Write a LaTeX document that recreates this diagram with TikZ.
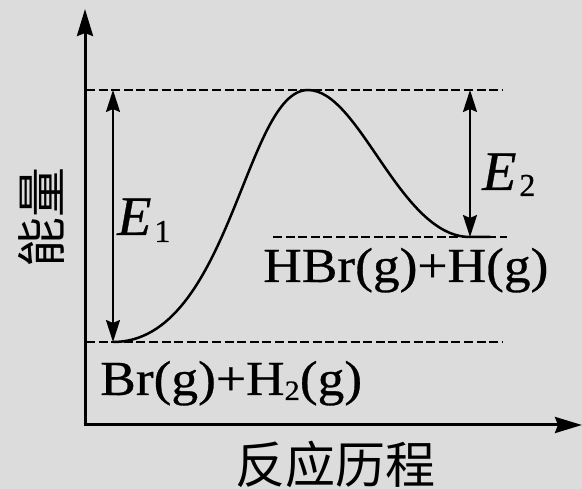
\documentclass[tikz,border=0pt]{standalone}
\usepackage{fontspec}
\setmainfont{Liberation Serif}
\newfontfamily\heavyserif{Liberation Serif}[FakeBold=0.6]
\newfontfamily\cjk{Noto Sans CJK SC}
\usetikzlibrary{arrows.meta}
\definecolor{bg}{RGB}{220,220,220}
\tikzset{
  axis/.style={line width=3pt,-{Stealth[length=27pt,width=16pt,inset=3pt]}},
  dimarrow/.style={line width=2.2pt,{Stealth[length=22pt,width=14pt,inset=3pt]}-{Stealth[length=22pt,width=14pt,inset=3pt]}},
  level/.style={line width=2.6pt,dash pattern=on 9pt off 3.6pt},
  curve/.style={line width=2.5pt},
  lbl/.style={inner sep=0pt,anchor=base west,font=\fontsize{49}{49}\selectfont\heavyserif,xscale=1.09},
  elbl/.style={inner sep=0pt,anchor=base west,font=\fontsize{56}{56}\selectfont\heavyserif\itshape},
  cn/.style={inner sep=0pt,font=\fontsize{50}{50}\selectfont\cjk}
}
\begin{document}
\begin{tikzpicture}[x=1pt,y=-1pt]
\fill[bg] (0,0) rectangle (582,489);
\useasboundingbox (0,0) rectangle (582,489);
% axes
\coordinate (O) at (85,425);
\coordinate (Ytip) at (85,9);
\coordinate (Xtip) at (582,425);
\draw[axis] (85,426.5) -- (Ytip);
\draw[axis] (83.5,425) -- (Xtip);
% levels
\coordinate (TopL) at (86,90);
\coordinate (TopR) at (502,90);
\coordinate (BotL) at (86,342);
\coordinate (BotR) at (502,342);
\coordinate (MidL) at (273,237);
\coordinate (MidR) at (507,237);
\draw[level] (TopL) -- (TopR);
\draw[level] (BotL) -- (BotR);
\draw[level] (MidL) -- (MidR);
% curve
\coordinate (R) at (113,342);
\coordinate (P) at (308,90);
\coordinate (Q) at (470,237);
\draw[curve] (R) .. controls (230,342) and (245,90) .. (P)
  .. controls (360,90) and (400,237) .. (Q) -- (490,237);
% energy arrows
\coordinate (E1t) at (113,90);
\coordinate (E2t) at (470,90);
\draw[dimarrow] (E1t) -- (R);
\draw[dimarrow] (E2t) -- (Q);
% labels
\node[elbl] (e1) at (117,235) {E\kern3pt\raisebox{-7pt}{\upshape\fontsize{32}{32}\selectfont 1}};
\node[elbl] (e2) at (482,190) {E\kern3pt\raisebox{-6pt}{\upshape\fontsize{32}{32}\selectfont 2}};
\node[lbl] (react) at (100,395) {Br(g)+H\raisebox{-5pt}{\fontsize{28}{28}\selectfont 2}(g)};
\node[lbl] (prod) at (263,282) {HBr(g)+H(g)};
\node[cn] (xl) at (335,464) {反应历程};
\node[cn,rotate=90] (yl) at (41,218) {能量};
\end{tikzpicture}
\end{document}
